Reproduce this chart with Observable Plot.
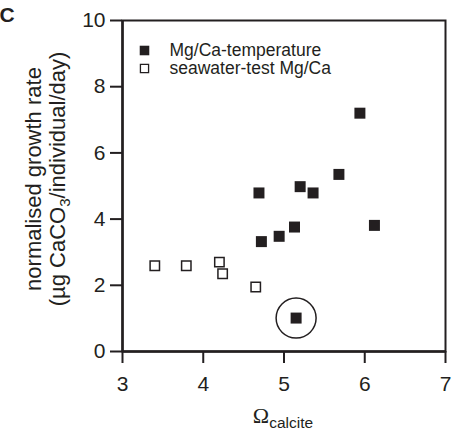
<!DOCTYPE html>
<html>
<head>
<meta charset="utf-8">
<script src="https://cdn.jsdelivr.net/npm/d3@7"></script>
<script src="https://cdn.jsdelivr.net/npm/@observablehq/plot@0.6"></script>
<style>
  html, body { margin: 0; padding: 0; background: #fff; }
  #chart svg { display: block; }
</style>
</head>
<body>
<div id="chart"></div>
<script>
// Data
const filledOmega = [5.94, 5.68, 5.20, 5.36, 4.69, 4.72, 4.94, 5.13, 6.12, 5.15];
const filledRate  = [7.20, 5.35, 4.98, 4.79, 4.79, 3.32, 3.48, 3.76, 3.81, 1.01];
const openOmega   = [3.40, 3.79, 4.20, 4.24, 4.65];
const openRate    = [2.59, 2.59, 2.70, 2.35, 1.95];
const circledOmega = [5.15];
const circledRate  = [1.01];
const xTicks = [3, 4, 5, 6, 7];
const yTicks = [0, 2, 4, 6, 8, 10];
const legendLabels = ["Mg/Ca-temperature", "seawater-test Mg/Ca"];

const ink = "#231f20";
const filled = filledOmega.map((x, i) => ({x, y: filledRate[i]}));
const open = openOmega.map((x, i) => ({x, y: openRate[i]}));
const circled = circledOmega.map((x, i) => ({x, y: circledRate[i]}));

const chart = Plot.plot({
  width: 452,
  height: 432,
  marginLeft: 122,
  marginRight: 7,
  marginTop: 20,
  marginBottom: 81,
  x: {domain: [3, 7]},
  y: {domain: [0, 10]},
  style: {fontFamily: "'Liberation Sans', Arial, sans-serif", fontSize: "21px", color: ink, background: "#fff", overflow: "visible"},
  marks: [
    Plot.frame({stroke: ink, strokeWidth: 2}),
    Plot.axisX({ticks: xTicks, tickFormat: "d", tickSize: 12, tickPadding: 13, label: null, stroke: ink, strokeWidth: 2, fontSize: 21}),
    Plot.axisY({ticks: yTicks, tickFormat: "d", tickSize: 12, tickPadding: 5, label: null, stroke: ink, strokeWidth: 2, fontSize: 21}),
    Plot.ruleY([0], {stroke: ink, strokeWidth: 2.5}),
    Plot.ruleX([3], {stroke: ink, strokeWidth: 2.5}),
    Plot.dot(open, {x: "x", y: "y", symbol: "square", r: 5.3, fill: "#fff", stroke: ink, strokeWidth: 1.5}),
    Plot.dot(filled, {x: "x", y: "y", symbol: "square", r: 6.2, fill: ink, stroke: "none"}),
    Plot.dot(circled, {x: "x", y: "y", r: 20, fill: "none", stroke: ink, strokeWidth: 1.5}),
    // legend
    Plot.dot([legendLabels[0]], {frameAnchor: "top-left", dx: 22, dy: 30, symbol: "square", r: 5.4, fill: ink}),
    Plot.dot([legendLabels[1]], {frameAnchor: "top-left", dx: 22, dy: 48, symbol: "square", r: 4.6, fill: "#fff", stroke: ink, strokeWidth: 1.3}),
    Plot.text([legendLabels[0]], {text: d => d, frameAnchor: "top-left", dx: 47, dy: 30, textAnchor: "start", lineAnchor: "middle", fontSize: 17.5, fill: ink}),
    Plot.text([legendLabels[1]], {text: d => d, frameAnchor: "top-left", dx: 47, dy: 48, textAnchor: "start", lineAnchor: "middle", fontSize: 17.5, fill: ink})
  ]
});

const svg = d3.select(chart);
// Panel letter
svg.append("text")
  .attr("x", 7).attr("y", 22)
  .attr("font-family", "'Liberation Sans', Arial, sans-serif")
  .attr("font-weight", "bold").attr("font-size", 21).attr("fill", ink)
  .text("C");

// Y axis label (two lines, rotated)
const yl = svg.append("g").attr("font-family", "'Liberation Sans', Arial, sans-serif")
  .attr("font-size", 22).attr("fill", ink).attr("text-anchor", "middle");
yl.append("text").attr("transform", "translate(41,179) rotate(-90)").text("normalised growth rate");
const l2 = yl.append("text").attr("transform", "translate(65,179) rotate(-90)");
l2.append("tspan").text("(µg CaCO");
l2.append("tspan").attr("font-size", 15).attr("dy", 5).text("3");
l2.append("tspan").attr("dy", -5).text("/individual/day)");

// X axis label: Omega_calcite
const xl = svg.append("text").attr("x", 283).attr("y", 423).attr("text-anchor", "middle").attr("fill", ink);
xl.append("tspan").attr("font-family", "'Liberation Serif', 'Times New Roman', serif").attr("font-size", 22).text("Ω");
xl.append("tspan").attr("font-family", "'Liberation Sans', Arial, sans-serif").attr("font-size", 15.5).attr("dy", 5).text("calcite");

document.getElementById("chart").appendChild(chart);
</script>
</body>
</html>
